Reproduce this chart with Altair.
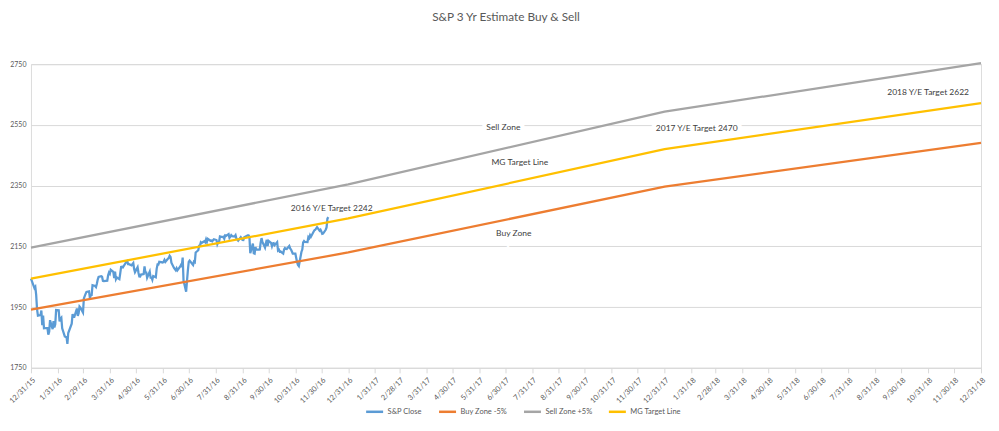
import altair as alt
import pandas as pd

title_text = "S&P 3 Yr Estimate Buy & Sell"
series_names = ["S&P Close", "Buy Zone -5%", "Sell Zone +5%", "MG Target Line"]
series_colors = ["#5B9BD5", "#ED7D31", "#A5A5A5", "#FFC000"]

# Target / zone lines (year-end anchor points)
zone_dates = ["2015-12-31", "2016-12-31", "2017-12-31", "2018-12-31"]
mg_target = [2043.94, 2242, 2470, 2622]
buy_zone = [1941.7, 2129.9, 2346.5, 2490.9]
sell_zone = [2146.1, 2354.1, 2593.5, 2753.1]

# S&P close, daily, by month (day of month, close)
sp_start = ("2015-12-31", 2043.94)
sp_days = {
    "2016-01": [4, 5, 6, 7, 8, 11, 12, 13, 14, 15, 19, 20, 21, 22, 25, 26, 27, 28, 29],
    "2016-02": [1, 2, 3, 4, 5, 8, 9, 10, 11, 12, 16, 17, 18, 19, 22, 23, 24, 25, 26, 29],
    "2016-03": [1, 2, 3, 4, 7, 8, 9, 10, 11, 14, 15, 16, 17, 18, 21, 22, 23, 24, 28, 29, 30, 31],
    "2016-04": [1, 4, 5, 6, 7, 8, 11, 12, 13, 14, 15, 18, 19, 20, 21, 22, 25, 26, 27, 28, 29],
    "2016-05": [2, 3, 4, 5, 6, 9, 10, 11, 12, 13, 16, 17, 18, 19, 20, 23, 24, 25, 26, 27, 31],
    "2016-06": [1, 2, 3, 6, 7, 8, 9, 10, 13, 14, 15, 16, 17, 20, 21, 22, 23, 24, 27, 28, 29, 30],
    "2016-07": [1, 5, 6, 7, 8, 11, 12, 13, 14, 15, 18, 19, 20, 21, 22, 25, 26, 27, 28, 29],
    "2016-08": [1, 2, 3, 4, 5, 8, 9, 10, 11, 12, 15, 16, 17, 18, 19, 22, 23, 24, 25, 26, 29, 30, 31],
    "2016-09": [1, 2, 6, 7, 8, 9, 12, 13, 14, 15, 16, 19, 20, 21, 22, 23, 26, 27, 28, 29, 30],
    "2016-10": [3, 4, 5, 6, 7, 10, 11, 12, 13, 14, 17, 18, 19, 20, 21, 24, 25, 26, 27, 28, 31],
    "2016-11": [1, 2, 3, 4, 7, 8, 9, 10, 11, 14, 15, 16, 17, 18, 21, 22, 23, 25, 28, 29, 30],
    "2016-12": [1, 2, 5, 6, 7, 8],
}
sp_close = {
    "2016-01": [2012.66, 2016.71, 1990.26, 1943.09, 1922.03, 1923.67, 1938.68, 1890.28, 1921.84, 1880.33,
                1881.33, 1859.33, 1868.99, 1906.90, 1877.08, 1903.63, 1882.95, 1893.36, 1940.24],
    "2016-02": [1939.38, 1903.03, 1912.53, 1915.45, 1880.05, 1853.44, 1852.21, 1851.86, 1829.08, 1864.78,
                1895.58, 1926.82, 1917.83, 1917.78, 1945.50, 1921.27, 1929.80, 1951.70, 1948.05, 1932.23],
    "2016-03": [1978.35, 1986.45, 1993.40, 1999.99, 2001.76, 1979.26, 1989.26, 1989.57, 2022.19, 2019.64,
                2015.93, 2027.22, 2040.59, 2049.58, 2051.60, 2049.80, 2036.71, 2035.94, 2037.05, 2055.01,
                2063.95, 2059.74],
    "2016-04": [2072.78, 2066.13, 2045.17, 2066.66, 2041.91, 2047.60, 2041.99, 2061.72, 2082.42, 2082.78,
                2080.73, 2094.34, 2100.80, 2102.40, 2091.48, 2091.58, 2087.79, 2091.70, 2095.15, 2075.81,
                2065.30],
    "2016-05": [2081.43, 2063.37, 2051.12, 2050.63, 2057.14, 2058.69, 2084.39, 2064.46, 2064.11, 2046.61,
                2066.66, 2047.21, 2047.63, 2040.04, 2052.32, 2048.04, 2076.06, 2090.54, 2090.10, 2099.06,
                2096.95],
    "2016-06": [2099.33, 2105.26, 2099.13, 2109.41, 2112.13, 2119.12, 2115.48, 2096.07, 2079.06, 2075.32,
                2071.50, 2077.99, 2071.22, 2083.25, 2088.90, 2085.45, 2113.32, 2037.41, 2000.54, 2036.09,
                2070.77, 2098.86],
    "2016-07": [2102.95, 2088.55, 2099.73, 2097.90, 2129.90, 2137.16, 2152.14, 2152.43, 2163.75, 2161.74,
                2166.89, 2163.78, 2173.02, 2165.17, 2175.03, 2168.48, 2169.18, 2166.58, 2170.06, 2173.60],
    "2016-08": [2170.84, 2157.03, 2163.79, 2164.25, 2182.87, 2180.89, 2181.74, 2175.49, 2185.79, 2184.05,
                2190.15, 2178.15, 2182.22, 2187.02, 2183.87, 2182.64, 2186.90, 2175.44, 2172.47, 2169.04,
                2180.38, 2176.12, 2170.95],
    "2016-09": [2170.86, 2179.98, 2186.48, 2186.16, 2181.30, 2127.81, 2159.04, 2127.02, 2125.77, 2147.26,
                2139.16, 2139.12, 2139.76, 2163.12, 2177.18, 2164.69, 2146.10, 2159.93, 2171.37, 2151.13,
                2168.27],
    "2016-10": [2161.20, 2150.49, 2159.73, 2160.77, 2153.74, 2163.66, 2136.73, 2139.18, 2132.55, 2132.98,
                2126.50, 2139.60, 2144.29, 2141.34, 2141.16, 2151.33, 2143.16, 2139.43, 2133.04, 2126.41,
                2126.15],
    "2016-11": [2111.72, 2097.94, 2088.66, 2085.18, 2131.52, 2139.56, 2163.26, 2167.48, 2164.45, 2164.20,
                2180.39, 2176.94, 2187.12, 2181.90, 2198.18, 2202.94, 2204.72, 2213.35, 2201.72, 2204.66,
                2198.81],
    "2016-12": [2191.08, 2191.95, 2204.71, 2212.23, 2241.35, 2246.19],
}

y_ticks = [1750, 1950, 2150, 2350, 2550, 2750]
x_ticks = [
    "2015-12-31", "2016-01-31", "2016-02-29", "2016-03-31", "2016-04-30", "2016-05-31", "2016-06-30",
    "2016-07-31", "2016-08-31", "2016-09-30", "2016-10-31", "2016-11-30", "2016-12-31",
    "2017-01-31", "2017-02-28", "2017-03-31", "2017-04-30", "2017-05-31", "2017-06-30",
    "2017-07-31", "2017-08-31", "2017-09-30", "2017-10-31", "2017-11-30", "2017-12-31",
    "2018-01-31", "2018-02-28", "2018-03-31", "2018-04-30", "2018-05-31", "2018-06-30",
    "2018-07-31", "2018-08-31", "2018-09-30", "2018-10-31", "2018-11-30", "2018-12-31",
]

ann_labels = ["Sell Zone", "MG Target Line", "Buy Zone", "2016 Y/E Target 2242",
              "2017 Y/E Target 2470", "2018 Y/E Target 2622"]
ann_dates = ["2017-06-28", "2017-07-17", "2017-07-10", "2016-12-12", "2018-02-06", "2018-10-31"]
ann_values = [2543, 2428, 2194, 2276, 2540, 2658]

# ---- build tables ----
rows = [{"series": series_names[0], "date": sp_start[0], "value": sp_start[1]}]
for month, days in sp_days.items():
    for d, v in zip(days, sp_close[month]):
        rows.append({"series": series_names[0], "date": f"{month}-{d:02d}", "value": v})
for name, vals in zip(series_names[1:], [buy_zone, sell_zone, mg_target]):
    for d, v in zip(zone_dates, vals):
        rows.append({"series": name, "date": d, "value": v})
df = pd.DataFrame(rows)
df["date"] = pd.to_datetime(df["date"])

ann = pd.DataFrame({"label": ann_labels, "date": pd.to_datetime(ann_dates), "value": ann_values})


def dt(s):
    y, m, d = (int(p) for p in s.split("-"))
    return alt.DateTime(year=y, month=m, date=d)


FONT = "Lato"
TXT = "#595959"
GRID = "#D9D9D9"

x_scale = alt.Scale(domain=[dt(x_ticks[0]), dt(x_ticks[-1])])
y_scale = alt.Scale(domain=[y_ticks[0], y_ticks[-1]], nice=False, zero=False)

x_axis = alt.Axis(values=[dt(s) for s in x_ticks], format="%-m/%-d/%y", labelAngle=-45,
                  labelFont=FONT, labelFontSize=7.5, labelColor=TXT, labelFlush=False,
                  labelOverlap=False, labelPadding=3, tickColor=GRID, tickSize=5,
                  domainColor=GRID, grid=False)
y_axis = alt.Axis(values=y_ticks, format="d", labelFont=FONT, labelFontSize=7, labelColor=TXT,
                  labelPadding=5, domain=False, ticks=False, gridColor=GRID, gridWidth=1)

x_enc = alt.X("date:T", scale=x_scale, title=None, axis=x_axis)
y_enc = alt.Y("value:Q", scale=y_scale, title=None, axis=y_axis)

lines = alt.Chart(df).mark_line(strokeWidth=2.25).encode(
    x=x_enc,
    y=y_enc,
    color=alt.Color(
        "series:N",
        scale=alt.Scale(domain=series_names, range=series_colors),
        legend=alt.Legend(title=None, orient="none", legendX=334, legendY=338,
                          direction="horizontal", symbolType="stroke", symbolSize=289,
                          symbolStrokeWidth=2.5, labelFont=FONT, labelFontSize=7.5,
                          labelColor=TXT, labelOffset=3, columnPadding=11),
    ),
)

ann_bg = alt.Chart(ann).mark_text(font=FONT, fontSize=8.5, color="white", stroke="white",
                                  strokeWidth=9).encode(x=x_enc, y=y_enc, text="label:N")
ann_txt = alt.Chart(ann).mark_text(font=FONT, fontSize=8.5, color="#404040").encode(
    x=x_enc, y=y_enc, text="label:N")

chart = alt.layer(ann_bg, lines, ann_txt).properties(
    width=951,
    height=304,
    autosize=alt.AutoSizeParams(type="none"),
    padding={"left": 23, "top": 56, "right": 10, "bottom": 55},
    title=alt.TitleParams(title_text, font=FONT, fontSize=11.8, fontWeight="normal", color=TXT,
                          anchor="middle", offset=35),
).configure_view(stroke=None).configure(background="white")

chart.save("out.html", embed_options={"renderer": "svg", "actions": False})
